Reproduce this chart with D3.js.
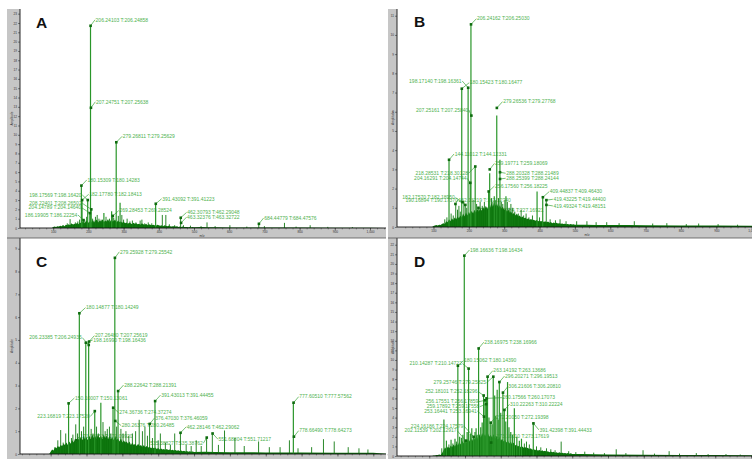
<!DOCTYPE html>
<html>
<head>
<meta charset="utf-8">
<script src="https://cdn.jsdelivr.net/npm/d3@7"></script>
<style>
  body { margin: 0; background: #fff; }
  svg { display: block; }
</style>
</head>
<body>
<svg id="chart" width="752" height="459"></svg>
<script>
// ---- tick labels ----
var xTicks = [100, 200, 300, 400, 500, 600, 700, 800, 900, 1000];
var yTicksA = [0,1,2,3,4,5,6,7,8,9,10,11,12,13,14,15,16,17,18,19,20,21,22,23];
var yTicksB = [0,1,2,3,4,5,6,7,8,9,10,11];
var yTicksC = [0,1,2,3,4,5,6,7,8,9];
var yTicksD = [0,1,2,3,4,5,6,7,8,9,10,11,12,13,14,15,16,17,18,19,20,21,22];

// m/z grid of the dense baseline noise (100 ... 500, every 4)
var noiseMz = d3.range(100, 501, 4);

// ---- spectrum A ----
var noiseA = [0.1,0.15,0.1,0.2,0.15,0.25,0.2,0.3,0.2,0.35,0.3,
  0.4,0.3,0.5,0.35,0.45,0.4,0.55,0.4,0.6,0.5,
  0.7,0.5,0.65,0.8,0.55,0.7,0.6,0.85,0.6,0.75,
  0.9,0.6,0.8,0.7,0.95,0.65,0.8,0.7,0.9,0.6,
  0.85,0.7,0.75,0.9,0.6,0.8,0.65,0.7,0.55,0.7,
  0.5,0.6,0.45,0.55,0.5,0.4,0.55,0.45,0.5,0.4,
  0.45,0.35,0.5,0.4,0.35,0.45,0.3,0.4,0.35,0.3,
  0.35,0.3,0.25,0.35,0.3,0.25,0.3,0.2,0.3,0.25,
  0.2,0.25,0.2,0.15,0.2,0.18,0.15,0.2,0.12,0.15,
  0.12,0.15,0.1,0.12,0.1,0.08,0.1,0.08,0.1,0.08];
var tailA = [[520,0.1],[540,0.07],[560,0.09],[600,0.06],[650,0.06],[700,0.05],[800,0.05],[900,0.04],[1000,0.04],[1040,0]];
var peaksA = [[180,4.55],[182,3.0],[198,3.0],[204,1.6],[206,21.7],[208,2.0],[269,1.3],[279,9.2],[391,2.6],[462,1.1],[684,0.45],
  [128,0.3],[140,0.5],[148,0.95],[155,0.4],[163,0.6],[170,0.7],[175,0.9],[186,0.85],[190,0.8],[195,1.2],[212,1.0],[216,0.8],
  [220,1.2],[225,1.4],[230,1.0],[236,0.9],[244,1.6],[250,1.2],[255,0.9],[260,1.0],[266,1.8],[272,1.1],[285,1.3],[290,2.7],
  [295,1.4],[300,0.9],[310,1.0],[318,0.7],[325,0.8],[335,0.6],[347,0.8],[352,0.9],[360,0.5],[370,0.6],[380,0.5],[410,1.4],
  [420,1.4],[430,0.4],[445,0.3],[470,0.3],[490,0.25],[520,0.2],[537,0.6],[560,0.2],[602,0.3],[650,0.15],[700,0.2],[757,0.55],
  [790,0.15],[830,0.3],[880,0.12],[950,0.1]];
var annA = [[206.24,21.7,"206.24103 T:206.24858"],[207.25,12.9,"207.24751 T:207.25638"],[279.27,9.2,"279.26811 T:279.25629"],
  [180.15,4.55,"180.15309 T:180.14283"],[198.18,3.0,"198.17569 T:198.16420"],[182.18,3.0,"182.17780 T:182.18413"],
  [208.22,2.0,"208.22401 T:208.26502"],[204.15,1.6,"204.14789 T:204.14640"],[186.20,0.85,"186.19905 T:186.22254"],
  [269.28,1.3,"269.28453 T:269.28524"],[391.43,2.6,"391.43092 T:391.41223"],[462.31,1.1,"462.30793 T:462.29048"],
  [463.32,0.55,"463.32376 T:463.32722"],[684.45,0.45,"684.44779 T:684.47576"]];

// ---- spectrum B ----
var noiseB = [0.05,0.08,0.1,0.08,0.12,0.1,0.15,0.2,0.15,0.3,0.25,
  0.4,0.3,0.45,0.35,0.5,0.4,0.55,0.45,0.6,0.5,
  0.7,0.55,0.75,0.6,0.8,0.65,0.85,0.7,0.9,0.75,
  0.95,0.8,1.0,0.85,1.05,0.9,1.1,0.95,1.15,1.0,
  1.25,1.05,1.3,1.1,1.2,1.0,1.15,0.95,1.05,0.9,
  0.95,0.8,0.9,0.75,0.8,0.65,0.75,0.6,0.7,0.55,
  0.6,0.5,0.55,0.45,0.5,0.4,0.45,0.38,0.42,0.35,
  0.38,0.32,0.36,0.3,0.34,0.28,0.32,0.26,0.3,0.25,
  0.28,0.22,0.26,0.2,0.24,0.2,0.22,0.18,0.2,0.17,
  0.18,0.15,0.17,0.14,0.16,0.13,0.15,0.13,0.14,0.12];
var tailB = [[530,0.12],[560,0.11],[600,0.1],[650,0.1],[700,0.09],[800,0.08],[900,0.08],[1000,0.07],[1040,0]];
var peaksB = [[144,3.5],[180,7.2],[198,7.25],[204,2.3],[206,10.55],[218,3.15],[256,1.85],[259,2.8],[279,5.8],[288,3.5],
  [393,1.85],[409,1.55],[419,1.4],
  [132,0.4],[138,0.5],[150,0.7],[156,0.6],[163,1.2],[168,0.9],[172,1.1],[176,0.8],[186,1.3],[190,1.15],[194,1.0],[212,1.4],
  [222,1.2],[227,1.0],[232,1.3],[238,1.1],[244,1.3],[250,1.0],[264,1.5],[268,1.3],[272,1.6],[276,1.4],[284,1.5],[292,1.3],
  [296,1.2],[302,1.4],[305,1.6],[309,1.3],[314,1.0],[319,1.2],[324,1.0],[330,0.8],[340,0.7],[348,0.9],[355,0.6],[362,0.7],
  [370,0.5],[380,0.6],[400,0.5],[430,0.4],[445,0.35],[458,0.4],[475,0.3],[505,0.3],[534,0.3],[560,0.25],[590,0.25],
  [625,0.2],[668,0.3],[720,0.18],[760,0.2],[815,0.15],[850,0.18],[905,0.15],[960,0.12]];
var annB = [[206.24,10.55,"206.24162 T:206.25030"],[198.17,7.25,"198.17140 T:198.16361"],[180.15,7.2,"180.15423 T:180.16477"],
  [207.25,5.8,"207.25161 T:207.25840"],[279.27,6.2,"279.26536 T:279.27768"],[144.11,3.5,"144.11012 T:144.12331"],
  [259.20,3.0,"259.19771 T:259.18069"],[218.29,3.15,"218.28531 T:218.30128"],[204.16,2.3,"204.16291 T:204.14744"],
  [288.20,2.85,"288.20328 T:288.21489"],[288.25,2.5,"288.25399 T:288.24144"],[256.18,1.85,"256.17560 T:256.18225"],
  [409.45,1.55,"409.44837 T:409.46430"],[419.43,1.4,"419.43225 T:419.44400"],[419.49,1.15,"419.49324 T:419.48151"],
  [182.18,1.3,"182.17570 T:182.18950"],[190.17,1.15,"190.16894 T:190.17370"],[227.17,1.0,"227.17384 T:227.16921"],
  [162.13,1.2,"162.13219 T:162.12740"]];

// ---- spectrum C ----
var noiseC = [0.1,0.2,0.15,0.3,0.25,0.35,0.3,0.4,0.35,0.45,0.4,
  0.5,0.4,0.55,0.45,0.6,0.5,0.65,0.55,0.7,0.6,
  0.75,0.6,0.8,0.65,0.75,0.6,0.8,0.65,0.85,0.7,
  0.8,0.65,0.85,0.7,0.8,0.65,0.85,0.7,0.8,0.65,
  0.8,0.65,0.75,0.6,0.8,0.6,0.7,0.55,0.7,0.5,
  0.6,0.5,0.55,0.45,0.55,0.4,0.5,0.4,0.45,0.35,
  0.45,0.35,0.4,0.3,0.4,0.3,0.35,0.28,0.32,0.25,
  0.3,0.25,0.28,0.22,0.26,0.2,0.24,0.2,0.22,0.18,
  0.22,0.17,0.2,0.16,0.19,0.15,0.18,0.14,0.16,0.13,
  0.15,0.12,0.14,0.11,0.13,0.1,0.12,0.1,0.11,0.09];
var tailC = [[530,0.1],[560,0.09],[600,0.08],[700,0.07],[800,0.07],[900,0.06],[1000,0.06],[1040,0]];
var peaksC = [[150,2.22],[180,6.17],[198,4.85],[206,4.93],[223,1.88],[240,2.25],[274,2.03],[279,8.6],[288,2.76],[376,1.32],
  [391,2.32],[462,0.93],[535,0.72],[551,0.9],[777,2.25],
  [112,0.3],[120,0.6],[128,1.05],[135,0.5],[142,0.9],[158,0.7],[162,0.85],[170,1.3],[175,0.9],[186,1.0],[192,1.2],[213,1.1],
  [218,0.9],[228,1.2],[233,0.9],[246,1.4],[252,1.0],[258,1.1],[264,1.2],[268,0.9],[284,1.2],[296,1.1],[302,0.9],[310,1.0],
  [318,0.8],[328,0.9],[337,1.0],[347,1.5],[356,1.0],[363,1.2],[370,0.8],[384,0.7],[400,0.6],[406,0.9],[420,0.5],[434,0.4],
  [446,0.9],[478,0.4],[492,0.35],[506,0.6],[520,0.35],[568,0.4],[585,1.03],[614,0.7],[640,0.35],[680,0.55],[710,0.3],
  [740,0.3],[766,0.6],[790,0.25],[828,0.3],[861,0.65],[891,0.55],[930,0.3],[960,0.25],[985,0.2]];
var annC = [[279.26,8.6,"279.25928 T:279.25542"],[180.15,6.17,"180.14877 T:180.14249"],[206.23,4.78,"206.23385 T:206.24935"],
  [207.26,4.93,"207.26480 T:207.25619"],[198.17,4.88,"198.16990 T:198.16436"],[288.23,2.76,"288.22642 T:288.21391"],
  [150.10,2.22,"150.10007 T:150.13061"],[391.43,2.32,"391.43013 T:391.44455"],[223.17,1.88,"223.16819 T:223.17520"],
  [274.37,2.03,"274.36736 T:274.37274"],[376.47,1.32,"376.47030 T:376.46059"],[280.26,1.45,"280.26376 T:280.26485"],
  [462.28,0.93,"462.28146 T:462.29062"],[551.69,0.9,"551.68804 T:551.71217"],[535.39,0.72,"535.38827 T:535.38762"],
  [777.61,2.25,"777.60510 T:777.57562"],[778.66,0.76,"778.66490 T:778.64273"],[171.09,0.6,"171.08953 T:171.09920"]];

// ---- spectrum D ----
var noiseD = [0,0,0,0.05,0.05,0.1,0.1,0.15,0.1,0.3,0.6,
  0.9,0.7,1.0,0.8,1.1,0.9,1.2,1.0,1.3,1.1,
  1.5,1.2,1.6,1.3,1.7,1.4,1.8,1.5,1.9,1.6,
  2.0,1.7,2.2,1.8,2.3,1.9,2.4,2.0,2.3,1.9,
  2.4,2.0,2.2,1.9,2.3,1.8,2.1,1.7,2.0,1.6,
  1.8,1.5,1.7,1.4,1.6,1.3,1.5,1.2,1.4,1.1,
  1.2,1.0,1.1,0.9,1.0,0.85,0.95,0.8,0.85,0.7,
  0.8,0.65,0.75,0.6,0.7,0.55,0.65,0.5,0.6,0.5,
  0.55,0.45,0.5,0.4,0.48,0.38,0.45,0.35,0.4,0.32,
  0.38,0.3,0.35,0.28,0.32,0.25,0.3,0.24,0.28,0.22];
var tailD = [[530,0.2],[560,0.18],[600,0.16],[700,0.13],[800,0.11],[900,0.1],[1000,0.09],[1040,0]];
var peaksD = [[141,3.8],[180,9.4],[198,20.86],[202,1.6],[210,9.1],[224,2.0],[238,11.2],[252,6.3],[253,4.1],[256,5.8],
  [259,5.4],[260,6.0],[263,8.26],[272,3.47],[273,1.4],[279,8.26],[296,7.7],[306,6.6],[310,4.8],[391,3.4],
  [135,0.8],[148,1.6],[155,1.2],[161,1.7],[166,1.3],[172,1.8],[176,1.5],[185,2.0],[190,1.9],[194,2.2],[206,2.5],[215,2.3],
  [219,2.9],[228,2.5],[231,2.9],[234,2.2],[244,3.0],[248,3.5],[267,4.0],[276,3.3],[283,6.3],[286,4.2],[290,6.9],[293,3.8],
  [300,4.5],[314,3.6],[319,7.7],[323,3.0],[328,2.5],[333,2.2],[338,4.96],[345,2.0],[352,1.6],[358,1.8],[366,1.3],[372,1.5],
  [380,1.2],[400,1.0],[412,0.9],[428,0.8],[440,0.7],[452,0.6],[469,1.5],[490,0.5],[510,0.4],[535,0.45],[560,0.35],
  [590,0.3],[623,0.7],[650,0.3],[698,0.6],[730,0.25],[771,0.5],[800,0.25],[847,0.3],[880,0.2],[930,0.2],[970,0.15]];
var annD = [[198.17,20.86,"198.16636 T:198.16434"],[238.17,11.2,"238.16975 T:238.16966"],[180.15,9.4,"180.15062 T:180.14390"],
  [210.14,9.1,"210.14287 T:210.14722"],[263.14,8.26,"263.14192 T:263.13686"],[279.26,8.26,"279.25746 T:279.25825"],
  [296.20,7.7,"296.20271 T:296.19513"],[306.22,6.6,"306.21606 T:306.20810"],[252.18,6.3,"252.18101 T:252.18296"],
  [256.18,5.8,"256.17551 T:256.17859"],[259.18,5.4,"259.17892 T:259.17558"],[253.16,4.1,"253.16441 T:253.16941"],
  [260.18,6.0,"260.17566 T:260.17073"],[310.22,4.8,"310.22263 T:310.22224"],[272.20,3.47,"272.20050 T:272.19398"],
  [391.42,3.4,"391.42398 T:391.44433"],[224.16,2.0,"224.16186 T:224.17579"],[202.12,1.6,"202.11539 T:202.12917"],
  [273.18,1.4,"273.18210 T:273.17619"]];

// label placement relative to marker: [dx, dy, anchorEnd]
var posA = [[5,-6,0],[5,-6,0],[6.5,-6,0],[6,-5.7,0],[-6.1,-5.1,1],[7.2,-5.8,0],[-9.6,-6.1,1],[-8.8,-5.4,1],[-6.2,-5.1,1],
  [6.6,-5.3,0],[6.4,-5,0],[6.4,-5.3,0],[6,-5.7,0],[5.2,-5.7,0]];
var posB = [[6,-5.7,0],[-6.6,-6.8,1],[8,-6,0],[-3,-5.5,1],[6.3,-6.3,0],[5.6,-5.8,0],[5.3,-6,0],[-7.3,6.8,1],[-3.7,-4.5,1],
  [6.2,1,0],[6.2,-0.7,0],[6.4,-5.5,0],[6.8,-5.5,0],[7,-0.8,0],[7,1,0],[-7.7,-4.4,1],[-7.5,-4.3,1],[12.6,2.2,0],[3,-4,0]];
var posC = [[5,-6,0],[6.7,-5.6,0],[-7,-7.3,1],[5.9,-5.9,0],[7.5,-2.7,0],[6,-6,0],[6.4,-5.4,0],[6,-6,0],[-5,5.3,1],[6,5,0],
  [5.4,-6,0],[6.5,4.7,0],[6.3,-6,0],[6,5.8,0],[-4,5.7,1],[5.7,-6,0],[5.3,-6,0],[4,-4,0]];
var posD = [[5.7,-5.7,0],[5.7,-6.2,0],[6,-5,0],[-6.7,-5,1],[5.8,-6,0],[-7.3,6,1],[5.7,-6,0],[5.4,-6,0],[-6,-3.8,1],
  [-6.8,1.4,1],[-6.9,2.5,1],[-7.3,-5.6,1],[16,-0.7,0],[5.7,-5.6,0],[5.3,-5.4,0],[6,6.5,0],[-10.3,-10.8,1],[-9.1,-9.9,1],
  [5.3,-6.6,0]];

var svg = d3.select("#chart");
var FONT = "'Liberation Sans', Arial, sans-serif";

function drawPanel(L, noise, tail, peaks, ann, pos, yTicks) {
  var g = svg.append("g");
  var x = d3.scaleLinear().domain([0, 1000]).range(L.xr);
  var y = d3.scaleLinear().domain([0, L.ymax]).range([L.bottom, L.top]);

  // gray axis strips
  g.append("rect").attr("x", L.sx).attr("y", L.top).attr("width", L.left - L.sx)
    .attr("height", L.stripEnd - L.top).attr("fill", "#c6c6c6");
  g.append("rect").attr("x", L.sx).attr("y", L.bottom).attr("width", L.right - L.sx)
    .attr("height", L.stripEnd - L.bottom).attr("fill", "#c6c6c6");

  svg.append("clipPath").attr("id", "clip" + L.name).append("rect")
    .attr("x", L.left).attr("y", L.top).attr("width", L.right - L.left).attr("height", L.bottom - L.top);
  var plot = g.append("g").attr("clip-path", "url(#clip" + L.name + ")");

  // annotation texts (under the spectrum)
  plot.selectAll("text.lbl").data(ann).enter().append("text")
    .attr("class", "lbl")
    .attr("x", function(d, i){ return x(d[0]) + pos[i][0]; })
    .attr("y", function(d, i){ return y(d[1]) + pos[i][1]; })
    .attr("dy", "0.35em")
    .attr("text-anchor", function(d, i){ return pos[i][2] ? "end" : "start"; })
    .style("font-family", FONT).style("font-size", "5px")
    .attr("fill", "#4fb24f")
    .text(function(d){ return d[2]; });

  // leader lines
  plot.selectAll("line.lead").data(ann).enter().append("line")
    .attr("class", "lead")
    .attr("x1", function(d){ return x(d[0]); })
    .attr("y1", function(d){ return y(d[1]); })
    .attr("x2", function(d, i){ return x(d[0]) + pos[i][0] + (pos[i][2] ? 0.6 : -0.6); })
    .attr("y2", function(d, i){ return y(d[1]) + pos[i][1]; })
    .attr("stroke", "#3ca83c").attr("stroke-width", 0.7);

  // dense baseline noise
  var pts = [[96, 0]].concat(noiseMz.map(function(m, i){ return [m, noise[i]]; })).concat(tail);
  var area = d3.area().x(function(d){ return x(d[0]); }).y0(L.bottom).y1(function(d){ return y(d[1]); });
  plot.append("path").datum(pts).attr("d", area).attr("fill", "#0b730b");

  // sticks
  plot.selectAll("line.pk").data(peaks).enter().append("line")
    .attr("class", "pk")
    .attr("x1", function(d){ return x(d[0]); }).attr("x2", function(d){ return x(d[0]); })
    .attr("y1", L.bottom).attr("y2", function(d){ return y(d[1]); })
    .attr("stroke", function(d){ return d[1] > 1.5 ? "#2a962a" : "#127a12"; })
    .attr("stroke-width", function(d){ return d[1] > 1.5 ? 1.2 : 0.9; });

  // markers
  plot.selectAll("rect.mk").data(ann).enter().append("rect")
    .attr("class", "mk")
    .attr("x", function(d){ return x(d[0]) - 1.3; })
    .attr("y", function(d){ return y(d[1]) - 1.3; })
    .attr("width", 2.6).attr("height", 2.6)
    .attr("fill", "#0d6b0d");

  // y axis
  var ya = g.append("g").attr("transform", "translate(" + L.left + ",0)")
    .call(d3.axisLeft(y).tickValues(yTicks).tickSize(2).tickPadding(1).tickSizeOuter(0));
  ya.selectAll("text").style("font-family", FONT).style("font-size", "3.2px").attr("fill", "#333");
  ya.selectAll("line").attr("stroke", "#222").attr("stroke-width", 0.5);
  ya.select(".domain").remove();
  g.append("line").attr("x1", L.left).attr("x2", L.left).attr("y1", L.top).attr("y2", L.bottom)
    .attr("stroke", "#111").attr("stroke-width", 0.9);

  // x axis (labels only where the strip is tall enough to show them)
  var xa = g.append("g").attr("transform", "translate(0," + L.bottom + ")")
    .call(d3.axisBottom(x).tickValues(xTicks).tickSize(2.5).tickPadding(0.6).tickSizeOuter(0)
      .tickFormat(L.xLabels ? null : ""));
  xa.selectAll("text").style("font-family", FONT).style("font-size", "3.2px").attr("fill", "#333");
  xa.selectAll("line").attr("stroke", "#222").attr("stroke-width", 0.5);
  xa.select(".domain").remove();
  var minor = g.append("g").attr("transform", "translate(0," + L.bottom + ")")
    .call(d3.axisBottom(x).tickValues(d3.range(20, 1050, 20)).tickSize(1.4).tickFormat("").tickSizeOuter(0));
  minor.selectAll("line").attr("stroke", "#222").attr("stroke-width", 0.4);
  minor.select(".domain").remove();
  g.append("line").attr("x1", L.left).attr("x2", L.right).attr("y1", L.bottom).attr("y2", L.bottom)
    .attr("stroke", "#111").attr("stroke-width", 0.9);

  if (L.xLabels) {
    g.append("text").attr("x", L.mzX).attr("y", L.bottom + 8.5).attr("text-anchor", "middle")
      .style("font-family", FONT).style("font-size", "3.2px").attr("fill", "#333").text("m/z");
  }
  g.append("text").attr("transform", "translate(" + (L.sx + 5.5) + "," + ((L.top + L.bottom) / 2) + ") rotate(-90)")
    .attr("text-anchor", "middle").style("font-family", FONT).style("font-size", "3.2px").attr("fill", "#333")
    .text("Amplitude");

  // panel letter
  g.append("text").attr("x", L.letterX).attr("y", L.letterY)
    .style("font-family", FONT).style("font-size", "15.5px").style("font-weight", "bold").attr("fill", "#111")
    .text(L.name);
}

drawPanel({name:"A", sx:7, left:20, right:386, top:9, bottom:228, stripEnd:238, xr:[18,370], ymax:23.5,
           xLabels:true, mzX:202, letterX:36, letterY:28}, noiseA, tailA, peaksA, annA, posA, yTicksA);
drawPanel({name:"B", sx:388, left:397, right:752, top:9, bottom:227, stripEnd:238, xr:[398.1,751.7], ymax:11.35,
           xLabels:true, mzX:587, letterX:414, letterY:27}, noiseB, tailB, peaksB, annB, posB, yTicksB);
drawPanel({name:"C", sx:7, left:20, right:386, top:238, bottom:454, stripEnd:459, xr:[14.8,373.3], ymax:9.47,
           xLabels:false, mzX:202, letterX:36, letterY:267}, noiseC, tailC, peaksC, annC, posC, yTicksC);
drawPanel({name:"D", sx:388, left:397, right:752, top:238, bottom:456, stripEnd:459, xr:[393.5,751], ymax:22.7,
           xLabels:false, mzX:587, letterX:414, letterY:267}, noiseD, tailD, peaksD, annD, posD, yTicksD);

// thin border under the upper row
svg.append("line").attr("x1", 7).attr("x2", 386).attr("y1", 238).attr("y2", 238).attr("stroke", "#555").attr("stroke-width", 0.8);
svg.append("line").attr("x1", 388).attr("x2", 752).attr("y1", 238).attr("y2", 238).attr("stroke", "#555").attr("stroke-width", 0.8);
</script>
</body>
</html>
